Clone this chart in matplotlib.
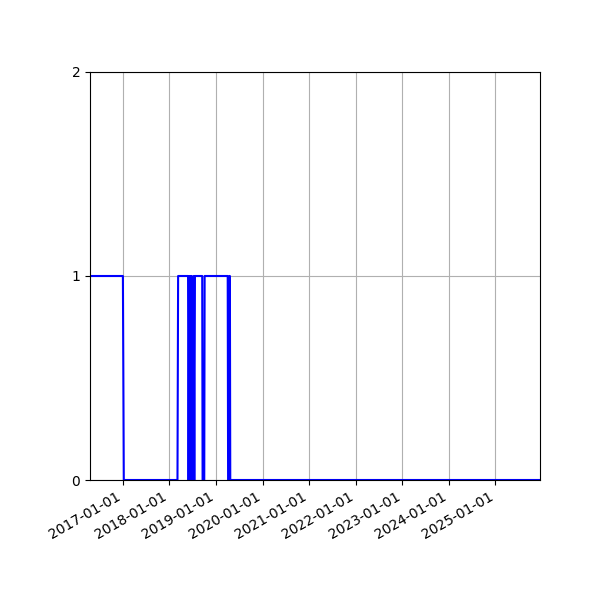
import matplotlib
matplotlib.use("Agg")
import matplotlib.pyplot as plt
import matplotlib.dates as mdates
import numpy as np

dates = [
    "2016-04-18", "2017-01-01", "2017-01-08",
    "2018-03-05", "2018-03-10",
    "2018-05-27", "2018-05-31", "2018-06-05", "2018-06-10",
    "2018-06-15", "2018-06-20", "2018-06-25", "2018-06-30",
    "2018-07-05", "2018-07-10", "2018-07-15", "2018-07-20",
    "2018-09-15", "2018-09-18",
    "2018-10-01", "2018-10-04",
    "2019-04-03", "2019-04-06",
    "2019-04-14", "2019-04-16",
    "2019-04-20", "2019-04-23",
    "2025-12-16",
]
values = [
    1, 1, 0,
    0, 1,
    1, 0, 1, 0,
    1, 0, 1, 0,
    0, 1, 0, 1,
    1, 0,
    0, 1,
    1, 0,
    0, 1,
    1, 0,
    0,
]
yticks = [0, 1, 2]

x = np.array(dates, dtype="datetime64[D]")

fig = plt.figure(figsize=(6, 6), dpi=100)
ax = fig.add_axes([0.15, 0.2, 0.75, 0.68])
ax.plot(x, values, color="blue", linewidth=1.5)
ax.set_xlim(x[0], x[-1])
ax.set_ylim(0, 2)
ax.set_yticks(yticks)
ax.xaxis.set_major_locator(mdates.YearLocator())
ax.xaxis.set_major_formatter(mdates.DateFormatter("%Y-%m-%d"))
ax.grid(True)
for lbl in ax.get_xticklabels():
    lbl.set_rotation(30)
    lbl.set_ha("right")
fig.savefig("out.png", dpi=100)
